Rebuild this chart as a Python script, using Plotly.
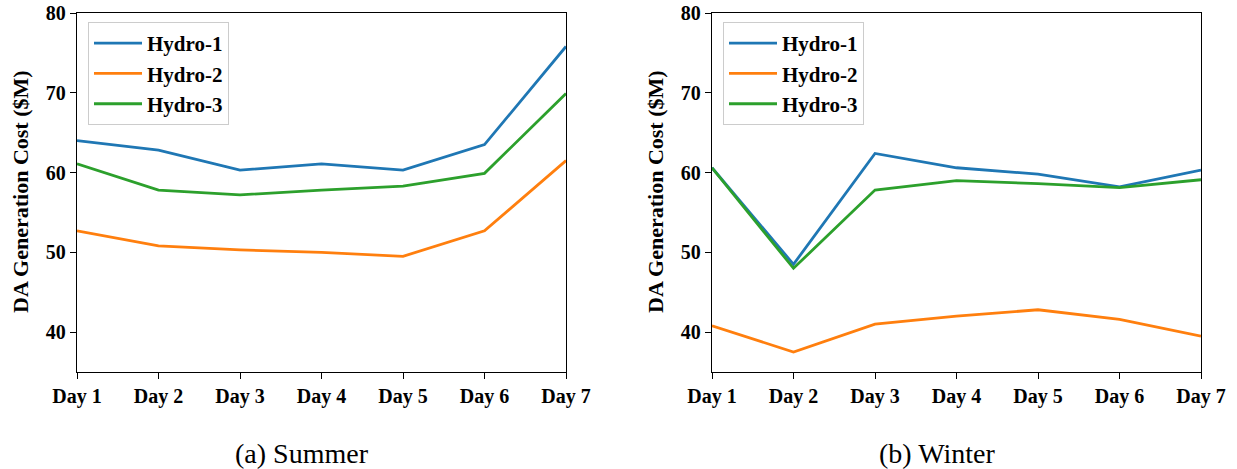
import plotly.graph_objects as go

days = ["Day 1", "Day 2", "Day 3", "Day 4", "Day 5", "Day 6", "Day 7"]
series_names = ["Hydro-1", "Hydro-2", "Hydro-3"]
colors = ["#1f77b4", "#ff7f0e", "#2ca02c"]

summer_hydro1 = [64.0, 62.8, 60.3, 61.1, 60.3, 63.5, 75.8]
summer_hydro2 = [52.7, 50.8, 50.3, 50.0, 49.5, 52.7, 61.5]
summer_hydro3 = [61.1, 57.8, 57.2, 57.8, 58.3, 59.9, 69.9]

winter_hydro1 = [60.6, 48.5, 62.4, 60.6, 59.8, 58.2, 60.3]
winter_hydro2 = [40.8, 37.5, 41.0, 42.0, 42.8, 41.6, 39.5]
winter_hydro3 = [60.6, 48.0, 57.8, 59.0, 58.6, 58.1, 59.1]

y_ticks = [40, 50, 60, 70, 80]
y_title = "DA Generation Cost ($M)"
subtitles = ["(a) Summer", "(b) Winter"]

W, H = 1237, 469
FONT = "Liberation Serif"

fig = go.Figure()

summer = [summer_hydro1, summer_hydro2, summer_hydro3]
winter = [winter_hydro1, winter_hydro2, winter_hydro3]

for name, vals, c in zip(series_names, summer, colors):
    fig.add_trace(go.Scatter(x=days, y=vals, mode="lines", name=name,
                             line=dict(color=c, width=2.8),
                             xaxis="x", yaxis="y", legend="legend"))
for name, vals, c in zip(series_names, winter, colors):
    fig.add_trace(go.Scatter(x=days, y=vals, mode="lines", name=name,
                             line=dict(color=c, width=2.8),
                             xaxis="x2", yaxis="y2", legend="legend2"))

def px_x(p):
    return p / W

def px_y(p):
    return (H - p) / H

axis_common = dict(showline=True, linecolor="black", linewidth=1.3, mirror=True,
                   ticks="outside", ticklen=6, tickwidth=1.3, tickcolor="black",
                   showgrid=False, zeroline=False, automargin=False,
                   tickfont=dict(family=FONT, size=20, color="black", weight="bold"))

xdom1 = [px_x(77), px_x(566)]
xdom2 = [px_x(712), px_x(1201)]
ydom = [px_y(372), px_y(13)]

legend_common = dict(yanchor="top", xanchor="left", y=px_y(22),
                     bgcolor="rgba(255,255,255,0.8)", bordercolor="#cccccc", borderwidth=1,
                     font=dict(family=FONT, size=21, color="black", weight="bold"),
                     tracegroupgap=0, itemwidth=48)

fig.update_layout(
    width=W, height=H,
    margin=dict(l=0, r=0, t=0, b=0, pad=0, autoexpand=False),
    paper_bgcolor="white", plot_bgcolor="white",
    font=dict(family=FONT, color="black"),
    xaxis=dict(domain=xdom1, type="category", range=[0, 6], anchor="y", **axis_common),
    yaxis=dict(domain=ydom, range=[35, 80], tickvals=y_ticks, anchor="x", **axis_common),
    xaxis2=dict(domain=xdom2, type="category", range=[0, 6], anchor="y2", **axis_common),
    yaxis2=dict(domain=ydom, range=[35, 80], tickvals=y_ticks, anchor="x2", **axis_common),
    legend=dict(x=px_x(88), **legend_common),
    legend2=dict(x=px_x(723), **legend_common),
    showlegend=True,
)

annotations = []
for xc in [20, 655]:
    annotations.append(dict(text=y_title, x=px_x(xc), y=px_y(192), xref="paper", yref="paper",
                            showarrow=False, textangle=-90, xanchor="center", yanchor="middle",
                            font=dict(family=FONT, size=22, color="black", weight="bold")))
for xc, t in zip([302, 937], subtitles):
    annotations.append(dict(text=t, x=px_x(xc), y=px_y(453), xref="paper", yref="paper",
                            showarrow=False, xanchor="center", yanchor="middle",
                            font=dict(family=FONT, size=28, color="black")))
fig.update_layout(annotations=annotations)

fig.write_html("out.html")
